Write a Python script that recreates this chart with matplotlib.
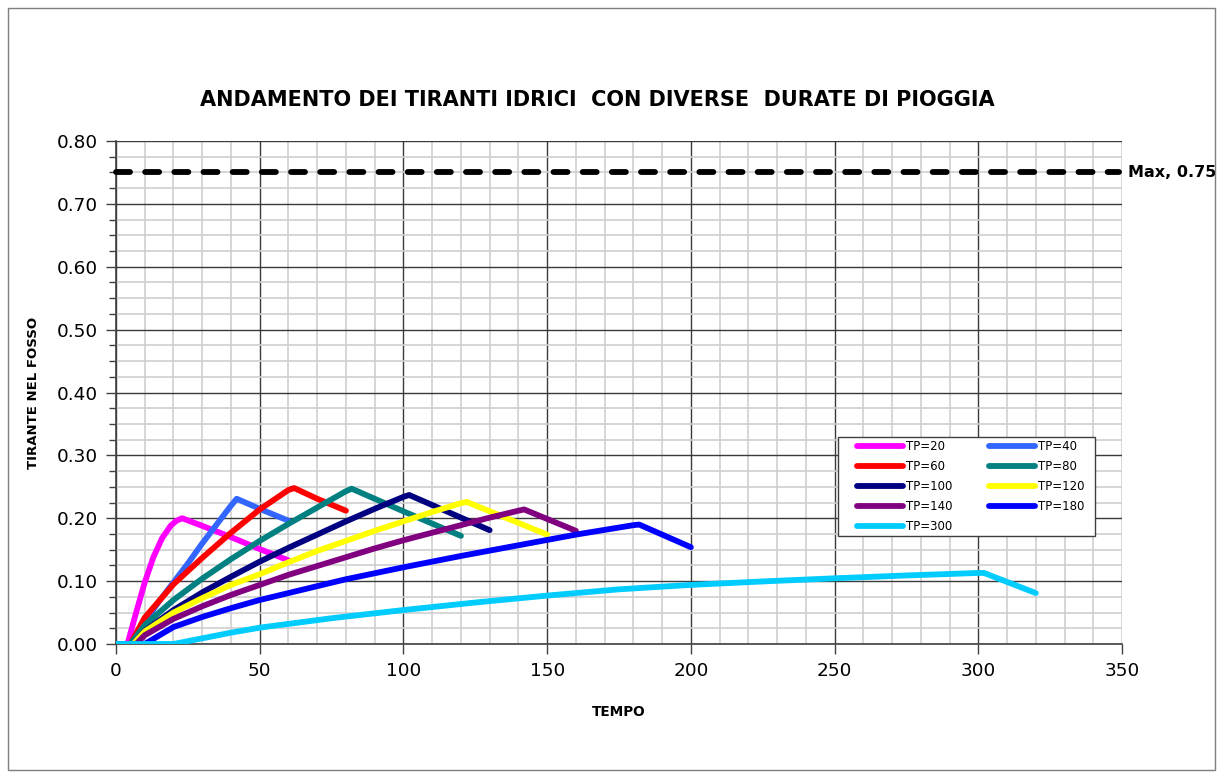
import matplotlib
matplotlib.use("Agg")
import matplotlib.pyplot as plt
from matplotlib.patches import Rectangle
from matplotlib.ticker import MultipleLocator, FormatStrFormatter

plt.rcParams['font.family'] = ['DejaVu Sans']

# ---- data ----
t_20 = [0, 4, 7, 10, 13, 16, 19, 21, 23, 30, 40, 50, 60]
y_20 = [0, 0, 0.050, 0.098, 0.138, 0.168, 0.188, 0.196, 0.200, 0.188, 0.170, 0.151, 0.133]

t_40 = [0, 5, 10, 15, 20, 25, 30, 35, 40, 42, 50, 60]
y_40 = [0, 0, 0.035, 0.068, 0.098, 0.128, 0.160, 0.190, 0.220, 0.231, 0.215, 0.196]

t_60 = [0, 5, 10, 20, 30, 40, 50, 60, 62, 70, 80]
y_60 = [0, 0, 0.042, 0.095, 0.137, 0.177, 0.214, 0.245, 0.248, 0.231, 0.212]

t_80 = [0, 5, 10, 20, 30, 40, 50, 60, 70, 80, 82, 100, 120]
y_80 = [0, 0, 0.030, 0.070, 0.104, 0.135, 0.164, 0.191, 0.217, 0.243, 0.247, 0.211, 0.172]

t_100 = [0, 6, 10, 20, 30, 40, 50, 60, 70, 80, 90, 100, 102, 130]
y_100 = [0, 0, 0.021, 0.054, 0.082, 0.107, 0.131, 0.153, 0.174, 0.195, 0.215, 0.234, 0.237, 0.181]

t_120 = [0, 6, 10, 20, 30, 40, 50, 60, 70, 80, 90, 100, 110, 120, 122, 150]
y_120 = [0, 0, 0.020, 0.050, 0.073, 0.094, 0.111, 0.130, 0.148, 0.164, 0.180, 0.195, 0.210, 0.224, 0.226, 0.174]

t_140 = [0, 7, 10, 20, 30, 40, 50, 60, 70, 80, 90, 100, 110, 120, 130, 140, 142, 160]
y_140 = [0, 0, 0.014, 0.040, 0.060, 0.078, 0.094, 0.110, 0.124, 0.138, 0.152, 0.165, 0.177, 0.189, 0.201, 0.212, 0.214, 0.180]

t_180 = [0, 10, 20, 30, 40, 50, 60, 80, 100, 120, 140, 160, 180, 182, 200]
y_180 = [0, 0, 0.027, 0.043, 0.057, 0.070, 0.081, 0.103, 0.122, 0.140, 0.157, 0.174, 0.189, 0.190, 0.154]

t_300 = [0, 20, 30, 40, 50, 75, 100, 125, 150, 175, 200, 225, 250, 275, 300, 302, 320]
y_300 = [0, 0, 0.009, 0.018, 0.026, 0.041, 0.054, 0.066, 0.077, 0.087, 0.094, 0.0995, 0.1045, 0.109, 0.113, 0.113, 0.081]

labels = ["TP=20", "TP=40", "TP=60", "TP=80", "TP=100", "TP=120", "TP=140", "TP=180", "TP=300"]
colors = ["#FF00FF", "#3366FF", "#FF0000", "#008080", "#000080", "#FFFF00", "#800080", "#0000FF", "#00CCFF"]
series_t = [t_20, t_40, t_60, t_80, t_100, t_120, t_140, t_180, t_300]
series_y = [y_20, y_40, y_60, y_80, y_100, y_120, y_140, y_180, y_300]

max_value = 0.75
max_label = "Max, 0.75"

# ---- figure ----
W, H = 1223, 778
fig = plt.figure(figsize=(W / 100, H / 100), dpi=100)
fig.patches.append(Rectangle((8 / W, 8 / H), 1 - 16 / W, 1 - 16 / H, transform=fig.transFigure,
                             fill=False, edgecolor="#7f7f7f", linewidth=1.0))

ax = fig.add_axes([116 / W, 1 - 644 / H, (1122 - 116) / W, (644 - 141) / H])

handles = []
for t, y, c, lab in zip(series_t, series_y, colors, labels):
    h, = ax.plot(t, y, color=c, lw=4.2, label=lab, solid_joinstyle='round',
                 solid_capstyle='round', zorder=3)
    handles.append(h)

ax.plot([0, 349], [max_value, max_value], color="black", lw=4.2, dashes=(2.4, 2.6),
        dash_capstyle='round', zorder=4, clip_on=False)
ax.text(352, max_value, max_label, fontsize=11.5, fontweight='bold', va='center', ha='left',
        transform=ax.transData, clip_on=False)

ax.set_xlim(0, 350)
ax.set_ylim(0, 0.80)
ax.xaxis.set_major_locator(MultipleLocator(50))
ax.xaxis.set_minor_locator(MultipleLocator(10))
ax.yaxis.set_major_locator(MultipleLocator(0.10))
ax.yaxis.set_minor_locator(MultipleLocator(0.025))
ax.yaxis.set_major_formatter(FormatStrFormatter('%.2f'))

ax.grid(which='major', color='#3a3a3a', lw=1.0, zorder=1)
ax.grid(which='minor', color='#cfcfcf', lw=1.2, zorder=0)
ax.set_axisbelow(True)

for s in ['top', 'right']:
    ax.spines[s].set_visible(False)
ax.spines['left'].set_color('#404040')
ax.spines['bottom'].set_color('#404040')
ax.spines['left'].set_linewidth(1.2)
ax.spines['bottom'].set_linewidth(1.2)

ax.tick_params(axis='both', which='major', direction='out', length=7, width=1, color='#404040',
               labelsize=13.3, pad=6)
ax.tick_params(axis='y', which='minor', direction='out', length=5, width=1, color='#404040')
ax.tick_params(axis='x', which='minor', length=0)

ax.set_title("ANDAMENTO DEI TIRANTI IDRICI  CON DIVERSE  DURATE DI PIOGGIA",
             fontsize=15, fontweight='bold', pad=25, x=(597 - 116) / 1006)
ax.set_xlabel("TEMPO", fontsize=9.8, fontweight='bold', labelpad=18)
ax.set_ylabel("TIRANTE NEL FOSSO", fontsize=9.5, fontweight='bold', labelpad=12)

# legend frame (drawn separately so that horizontal and vertical padding differ)
x0 = (838 - 116) / 1006
x1 = (1095 - 116) / 1006
y0 = (644 - 536) / 503
y1 = (644 - 437) / 503
ax.add_patch(Rectangle((x0, y0), x1 - x0, y1 - y0, transform=ax.transAxes, facecolor='white',
                       edgecolor='#404040', lw=1.0, zorder=5))

order = [0, 2, 4, 6, 8, 1, 3, 5, 7]
leg = ax.legend([handles[i] for i in order], [labels[i] for i in order], ncol=2,
                loc='upper left', bbox_to_anchor=((857 - 116) / 1006, (644 - 440) / 503),
                fontsize=8.5, frameon=False, handlelength=3.9, handletextpad=0.25,
                labelspacing=0.6, borderaxespad=0, columnspacing=3.1, borderpad=0)
leg.set_zorder(6)

fig.savefig("out.png", dpi=100)
